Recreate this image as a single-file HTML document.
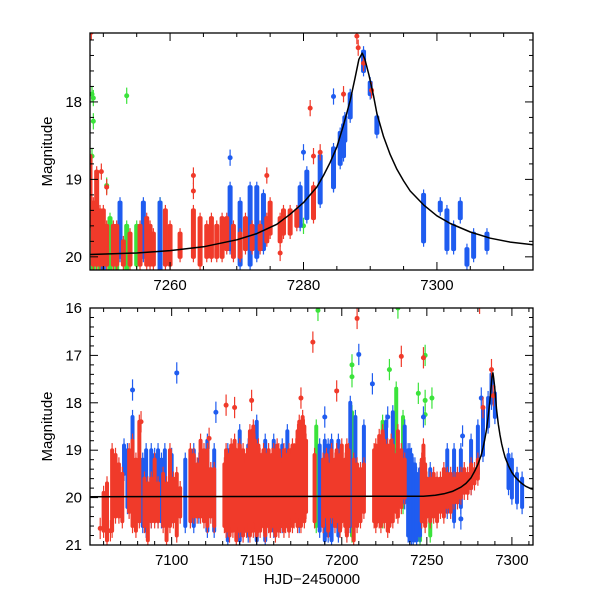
<!DOCTYPE html>
<html><head><meta charset="utf-8"><style>
body{margin:0;background:#fff}
svg{display:block;font-family:"Liberation Sans",sans-serif}
</style></head><body>
<svg id="c" width="600" height="600">
<defs>
<clipPath id="clipTop"><rect x="90" y="33" width="443" height="237"/></clipPath>
<clipPath id="clipBot"><rect x="90" y="308" width="443" height="237"/></clipPath>
</defs>
</svg>
<script>
// ---- Data ----
const modelT = [7052,7248,7255,7260,7265,7270,7273,7276,7278,7280,7282,7283,7284,7285,7286,7287,7287.7,7288.3,7288.8,7289.2,7289.8,7290.5,7291,7292,7293,7294,7295,7296,7298,7300,7302,7305,7308,7311,7315];
const modelMag = [19.98,19.97,19.95,19.92,19.87,19.78,19.7,19.58,19.45,19.3,19.1,18.95,18.78,18.58,18.3,17.98,17.7,17.45,17.37,17.45,17.65,17.92,18.15,18.45,18.68,18.87,19.02,19.15,19.33,19.47,19.57,19.68,19.76,19.81,19.85];

const topXTicks = [7260,7280,7300];
const topYTicks = [18,19,20];
const botXTicks = [7100,7150,7200,7250,7300];
const botYTicks = [16,17,18,19,20,21];

// columns: [t, brightest mag, faintest mag]
const topRedCols = [[7248,18.7,19.6],[7248.5,19.3,20.1],[7249,18.9,20.1],[7249.5,19.4,20.1],[7250,19.4,20.1],[7250.5,19.6,20.1],[7251.5,19.6,20.1],[7252,19.6,20.1],[7253,19.8,20.1],[7254,19.7,20.1],[7255.5,19.6,20.1],[7256.5,19.5,20.1],[7257,19.6,20.1],[7257.5,19.7,20.1],[7259.3,19.4,20.1],[7260,19.6,20.1],[7261.5,19.7,20.0],[7263.5,19.4,20.0],[7264.5,19.5,20.1],[7265.5,19.6,20.0],[7266.2,19.5,20.0],[7267,19.6,20.0],[7267.8,19.5,20.0],[7268.5,19.5,19.9],[7269.5,19.6,20.0],[7270.5,19.7,20.0],[7271.3,19.5,19.9],[7272.3,19.6,19.9],[7273.5,19.6,19.9],[7274.5,19.5,19.8],[7275,19.3,19.7],[7276.5,19.5,19.8],[7277,19.4,19.7],[7278,19.4,19.7],[7279,19.4,19.6],[7281.5,19.1,19.5]];
const topRedPts = [[7248.2,17.1],[7249.7,18.9],[7250.5,19.1],[7263.5,18.95],[7263.5,19.15],[7274.5,18.95],[7281,18.08],[7281.5,18.7],[7282.5,18.65],[7286,17.9],[7288.2,17.3],[7288,17.15],[7289,17.5],[7290.2,17.85],[7250.5,19.9],[7276.5,19.95]];
const topBlueCols = [[7250,19.6,20.2],[7252.5,19.3,20.0],[7256,19.3,20.0],[7258.5,19.3,20.2],[7269,19.1,19.9],[7270.5,19.3,20.1],[7272,19.1,20.1],[7273,19.1,20.0],[7274,19.2,19.9],[7279.5,19.1,19.6],[7280.5,18.9,19.5],[7282.5,18.7,19.3],[7284.5,18.6,19.1],[7285.5,18.4,18.8],[7286,18.3,18.7],[7286.2,18.2,18.5],[7287,17.9,18.2],[7289,17.35,17.6],[7290,17.75,17.9],[7291,18.2,18.4],[7298,19.2,19.8],[7300.5,19.3,19.4],[7301.5,19.4,19.9],[7302.5,19.6,19.9],[7303.5,19.3,19.5],[7304.5,19.9,20.1],[7305.5,19.7,20.0],[7307.5,19.7,19.9]];
const topBluePts = [[7269,18.72],[7280,18.65],[7284.5,17.93],[7284.5,19.05]];
const topGreenCols = [[7248.5,19.4,20.2],[7249.5,19.5,20.2],[7251,19.5,20.2],[7252,19.7,20.2],[7253.5,19.6,20.2],[7255,19.6,20.1],[7258.5,19.3,20.1]];
const topGreenPts = [[7248.3,17.9],[7248.5,17.95],[7248.5,18.25],[7248.3,18.7],[7253.5,17.92],[7250.5,19.08],[7280,19.6]];

const botRedCols = [[7060,19.9,20.7],[7062,19.7,20.9],[7065,19.0,20.7],[7067,19.1,20.4],[7069,19.3,20.4],[7071,19.5,20.5],[7075,19.0,20.3],[7077,18.8,20.6],[7079,19.2,20.7],[7081,18.4,20.5],[7084,19.6,20.6],[7086,19.7,20.9],[7088,19.6,20.5],[7090,19.2,20.5],[7092,19.7,20.5],[7095,19.5,20.6],[7097,19.7,20.9],[7099,19.0,20.6],[7101,19.6,20.5],[7103,19.5,20.8],[7105,19.8,20.4],[7111,19.0,20.5],[7113,19.1,20.4],[7115,19.3,20.4],[7117,18.8,20.4],[7119,19.0,20.5],[7121,19.0,20.6],[7123,19.4,20.4],[7125,19.4,20.6],
[7131,19.3,20.6],[7132,19.0,20.7],[7133,19.2,20.5],[7134,19.1,20.8],[7135,18.9,20.6],[7136,19.0,20.7],[7137,18.8,20.5],[7138,19.1,20.9],[7139,19.0,20.6],[7140,18.9,20.7],[7141,19.2,20.5],[7142,19.0,20.8],[7143,19.3,20.6],[7144,19.1,20.7],[7145,19.0,20.5],[7146,18.6,20.8],[7147,18.7,20.6],[7148,18.5,20.7],[7149,18.8,20.5],[7150,19.0,20.8],[7151,18.9,20.6],[7152,19.1,20.7],[7153,19.2,20.5],[7154,19.0,20.6],[7155,19.1,20.8],[7156,19.2,20.5],[7157,19.0,20.6],[7158,19.3,20.7],[7159,19.1,20.5],[7160,19.0,20.6],[7161,19.2,20.8],[7162,18.9,20.5],[7163,19.0,20.7],[7164,19.2,20.6],[7165,19.3,20.5],[7166,19.0,20.7],[7167,19.1,20.6],[7168,19.2,20.5],[7169,19.0,20.7],[7170,19.1,20.4],[7171,18.9,20.6],[7172,19.0,20.5],[7173,18.9,20.3],[7174,18.6,20.6],[7175,18.4,20.4],[7176,18.5,20.6],[7177,18.3,20.2],[7178,18.5,20.5],[7179,18.8,20.3],
[7184,19.1,20.5],[7189,19.2,20.6],[7191,19.1,20.4],[7192,19.3,20.7],[7194,19.0,20.4],[7196,19.2,20.6],[7197,19.0,20.5],[7199,19.1,20.7],[7200,18.9,20.5],[7202,19.2,20.6],[7203,18.9,20.8],[7204,19.0,20.6],[7207,19.2,20.9],[7209,19.3,20.6],[7211,19.4,20.5],[7213,19.3,20.3],
[7219,19.0,20.5],[7220,18.9,20.6],[7221,19.1,20.4],[7222,18.7,20.5],[7223,18.9,20.6],[7224,18.6,20.4],[7225,18.8,20.5],[7227,18.9,20.7],[7228,19.1,20.6],[7229,18.8,20.4],[7230,18.9,20.5],[7232,19.1,20.3],[7233,18.6,20.4],[7235,19.0,20.2],[7237,19.2,20.0],
[7247,19.2,20.5],[7248,18.9,20.4],[7249,19.3,20.6],[7250,19.6,20.4],[7252,19.6,20.5],[7254,19.5,20.4],[7256,19.6,20.5],[7258,19.6,20.3],[7260,19.4,20.4],[7262,19.5,20.2],[7264,19.5,20.3],[7266,19.6,20.1],[7268,19.5,20.1],[7270,19.5,20.0],[7272,19.4,19.9],[7274,19.5,19.9],[7276,19.3,19.8],[7278,19.4,19.7],[7280,19.2,19.6]];
const botRedPts = [[7058,20.65],[7064,20.7],[7183,16.72],[7209,16.22],[7235,17.02],[7248,17.05],[7281,15.9],[7288,17.3],[7132,18.05],[7137,18.1],[7147,17.95],[7176,17.9],[7197,17.75],[7283,18.1],[7289,17.85],[7122,18.75],[7082,18.4]];
const botBlueCols = [[7072,18.9,19.5],[7074,19.0,20.2],[7077,18.3,19.4],[7083,19.2,20.6],[7085,19.0,20.7],[7088,19.0,20.5],[7090,19.1,20.4],[7092,19.0,20.5],[7094,19.2,20.5],[7096,19.0,20.4],[7100,19.1,20.4],[7108,19.2,20.6],[7113,19.0,20.6],[7116,19.2,20.4],[7121,18.8,20.7],[7125,19.0,20.7],[7133,19.0,20.9],[7140,18.6,20.9],[7145,18.9,20.8],[7150,18.4,20.9],[7155,18.8,20.9],[7160,18.8,20.7],[7165,18.9,20.6],[7168,18.6,20.5],[7175,18.6,20.6],[7187,18.9,20.7],[7190,18.8,20.9],[7192,18.9,20.8],[7194,18.8,20.9],[7198,18.8,20.8],[7205,18.0,20.6],[7208,18.3,20.3],[7213,18.5,20.0],[7226,18.4,20.3],[7230,18.2,20.3],[7237,18.5,20.1],[7239,19.0,20.8],[7240,19.0,20.9],[7241,19.1,20.9],[7242,19.3,20.9],[7243,19.3,20.8],[7244,19.5,20.9],[7246,19.4,20.8],[7252,19.4,20.4],[7262,19.0,20.3],[7266,19.0,20.5],[7270,19.0,20.2],[7276,18.8,19.8],[7280,18.5,19.5],[7283,18.1,19.1],[7286,17.9,18.5],[7288,17.4,18.0],[7290,17.8,18.3],[7298,19.1,19.8],[7300,19.2,20.0],[7303,19.5,20.1],[7306,19.6,20.2]];
const botBluePts = [[7077,17.73],[7103,17.37],[7126,18.2],[7210,16.98],[7218,17.6],[7227,18.3],[7248,18.3],[7271,18.7],[7282,17.9],[7190,18.3],[7270,20.45]];
const botGreenCols = [[7185,18.5,20.6],[7206,18.2,20.8],[7224,18.4,20.5],[7232,17.7,19.6],[7236,18.3,20.2],[7246,19.5,20.9],[7252,19.6,20.8]];
const botGreenPts = [[7186,16.05],[7206,17.2],[7206,17.45],[7228,17.3],[7233,16.0],[7245,17.8],[7249,17.95],[7249,18.25],[7253,17.9],[7249,17.0]];

// ---- Drawing ----
const NS="http://www.w3.org/2000/svg";
const svg=document.getElementById('c');
function el(tag,attrs,parent){const e=document.createElementNS(NS,tag);for(const k in attrs)e.setAttribute(k,attrs[k]);(parent||svg).appendChild(e);return e;}
const RED="#f03a2a",BLUE="#1f5cf0",GREEN="#3be33b";

function panel(cfg){
  const {x0,x1,y0,y1,t0,t1,m0,m1,name}=cfg;
  const X=t=>x0+(t-t0)/(t1-t0)*(x1-x0);
  const Y=m=>y0+(m-m0)/(m1-m0)*(y1-y0);
  const g=el('g',{'clip-path':'url(#'+cfg.clip+')'});
  
  
  function cols(arr,color,w,sname){
    const s=el('g',{},g);
    
    
    arr.forEach(c=>{
      const l=el('line',{x1:X(c[0]),x2:X(c[0]),y1:Y(c[1]-cfg.err),y2:Y(c[2]+cfg.err),stroke:color,'stroke-width':1.2},s);
      
      
      const r=el('rect',{x:X(c[0])-w/2,y:Y(c[1])-2,width:w,height:Math.max(4,Y(c[2])-Y(c[1])+4),fill:color,rx:2},s);
      
      
    });
  }
  function pts(arr,color,sname){
    const s=el('g',{},g);
    
    
    arr.forEach(p=>{
      const l=el('line',{x1:X(p[0]),x2:X(p[0]),y1:Y(p[1]-cfg.err*1.5),y2:Y(p[1]+cfg.err*1.5),stroke:color,'stroke-width':1.2},s);
      
      
      const c=el('circle',{cx:X(p[0]),cy:Y(p[1]),r:2.5,fill:color},s);
      
      
    });
  }
  cfg.series.forEach(sr=>{ if(sr.cols) cols(sr.cols,sr.color,cfg.w,sr.name+'-columns'); if(sr.pts) pts(sr.pts,sr.color,sr.name+'-points'); });
  let d='';modelT.forEach((t,i)=>{d+=(i?'L':'M')+X(t).toFixed(1)+','+Y(modelMag[i]).toFixed(1);});
  const p=el('path',{d:d,fill:'none',stroke:'#000','stroke-width':1.5,'stroke-linejoin':'round'},g);
  
  
  const fr=el('rect',{x:x0,y:y0,width:x1-x0,height:y1-y0,fill:'none',stroke:'#000','stroke-width':1.3});
  
  
  const tk=el('g',{stroke:'#000','stroke-width':1});
  
  
  for(let t=Math.ceil(t0/cfg.xMinor)*cfg.xMinor;t<=t1;t+=cfg.xMinor){
    const maj=cfg.xTicks.includes(t),L=maj?8:4,x=X(t);
    el('line',{x1:x,x2:x,y1:y1,y2:y1-L},tk);el('line',{x1:x,x2:x,y1:y0,y2:y0+L},tk);
  }
  for(let i=0;;i++){const m=Math.ceil(m0*5-1e-6)/5+i*0.2;if(m>m1+1e-6)break;
    const maj=cfg.yTicks.some(v=>Math.abs(v-m)<1e-6),L=maj?8:4,y=Y(m);
    el('line',{x1:x0,x2:x0+L,y1:y,y2:y},tk);el('line',{x1:x1,x2:x1-L,y1:y,y2:y},tk);}
  cfg.xTicks.forEach(t=>{const e=el('text',{x:X(t),y:y1+20,'text-anchor':'middle','font-size':15});e.textContent=t;
    
    });
  cfg.yTicks.forEach(m=>{const e=el('text',{x:x0-8,y:Y(m)+5,'text-anchor':'end','font-size':15});e.textContent=m;
    
    });
  const yt=el('text',{x:0,y:0,transform:'translate('+(x0-38)+','+((y0+y1)/2)+') rotate(-90)','text-anchor':'middle','font-size':15});
  yt.textContent='Magnitude';
  
  
}

panel({name:'top-panel',clip:'clipTop',x0:90,x1:533,y0:33,y1:270,t0:7248,t1:7314.4,m0:17.11,m1:20.17,err:0.07,w:5,
  xTicks:topXTicks,yTicks:topYTicks,xMinor:5,
  series:[{name:'green',color:GREEN,cols:topGreenCols,pts:topGreenPts},{name:'blue',color:BLUE,cols:topBlueCols,pts:topBluePts},{name:'red',color:RED,cols:topRedCols,pts:topRedPts}]});
panel({name:'bottom-panel',clip:'clipBot',x0:90,x1:533,y0:308,y1:545,t0:7052,t1:7312.4,m0:16,m1:21,err:0.15,w:4,
  xTicks:botXTicks,yTicks:botYTicks,xMinor:10,
  series:[{name:'green',color:GREEN,cols:botGreenCols,pts:botGreenPts},{name:'blue',color:BLUE,cols:botBlueCols,pts:botBluePts},{name:'red',color:RED,cols:botRedCols,pts:botRedPts}]});
const xt=el('text',{x:312,y:584,'text-anchor':'middle','font-size':15});
xt.textContent='HJD\u22122450000';


</script>
</body></html>
